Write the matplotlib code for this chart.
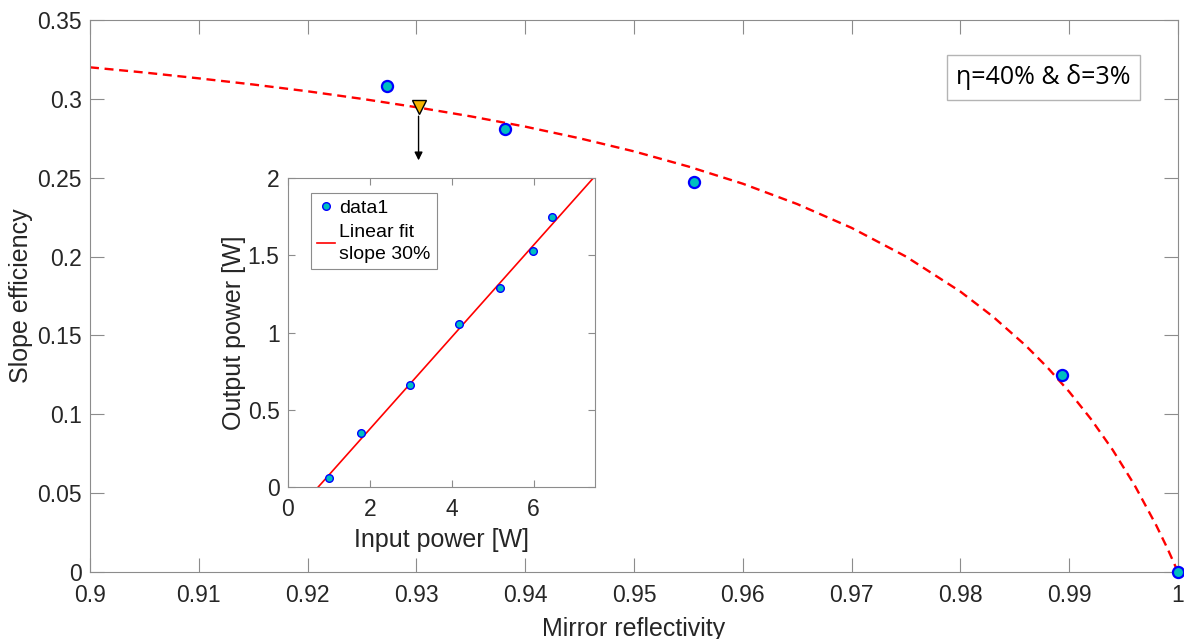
import numpy as np
import matplotlib
matplotlib.use("Agg")
import matplotlib.pyplot as plt
from matplotlib.ticker import FormatStrFormatter

plt.rcParams['font.family'] = ['Liberation Sans', 'DejaVu Sans']

# measured slope efficiency vs output mirror reflectivity
refl = [0.9273, 0.9381, 0.9555, 0.9893, 1.0]
slope_eff = [0.3082, 0.2809, 0.2475, 0.1249, 0.0]

# model curve (eta=40%, delta=3%)
curve_refl = [0.900, 0.905, 0.910, 0.915, 0.920, 0.925, 0.930, 0.935, 0.940,
              0.945, 0.950, 0.955, 0.960, 0.965, 0.970, 0.975, 0.980, 0.983,
              0.986, 0.988, 0.990, 0.992, 0.994, 0.996, 0.998, 0.999, 1.000]
curve_eff = [0.3200, 0.3167, 0.3130, 0.3091, 0.3048, 0.3000, 0.2947, 0.2889,
             0.2824, 0.2750, 0.2667, 0.2571, 0.2462, 0.2333, 0.2182, 0.2000,
             0.1778, 0.1619, 0.1436, 0.1297, 0.1143, 0.0970, 0.0774, 0.0552,
             0.0296, 0.0154, 0.0]

# highlighted point (inset is taken at this reflectivity)
mark_refl = [0.9302]
mark_eff = [0.295]

# inset: output vs input power
p_in = [1.00, 1.79, 2.98, 4.18, 5.18, 5.98, 6.46]
p_out = [0.06, 0.351, 0.66, 1.052, 1.285, 1.528, 1.748]
fit_x = [0.74, 7.46]
fit_y = [0.0, 2.0]

text_col = '#262626'
spine_col = '#8c8c8c'

fig = plt.figure(figsize=(11.84, 6.39), dpi=100)
ax = fig.add_axes([0.0760, 0.1049, 0.9189, 0.8638])

ax.plot(curve_refl, curve_eff, color='red', lw=1.7, dashes=(3.8, 2.4), zorder=2)
ax.plot(refl, slope_eff, 'o', ms=8, mfc='#00bfbf', mec='blue', mew=1.6,
        clip_on=False, zorder=4)
ax.plot(mark_refl, mark_eff, 'v', ms=9.5, mfc='#f5b400', mec='black', mew=1,
        zorder=5)
ax.annotate('', xy=(0.9302, 0.261), xytext=(0.9302, 0.289),
            arrowprops=dict(arrowstyle='-|>', color='black', lw=1,
                            mutation_scale=12, shrinkA=0, shrinkB=0))

ax.set_xlim(0.9, 1.0)
ax.set_ylim(0, 0.35)
ax.set_xticks(np.arange(0.9, 1.0001, 0.01))
ax.set_yticks(np.arange(0, 0.3501, 0.05))
ax.xaxis.set_major_formatter(FormatStrFormatter('%g'))
ax.yaxis.set_major_formatter(FormatStrFormatter('%g'))
ax.tick_params(direction='in', length=10, width=0.8, color=spine_col,
               labelsize=16.5, labelcolor=text_col, top=True, right=True)
ax.tick_params(axis='x', pad=9)
ax.tick_params(axis='y', pad=6)
for s in ax.spines.values():
    s.set_color(spine_col)
    s.set_linewidth(0.8)
ax.set_xlabel('Mirror reflectivity', fontsize=18, color=text_col, labelpad=7)
ax.set_ylabel('Slope efficiency', fontsize=18, color=text_col, labelpad=3)

ax.text(0.8764, 0.8967, 'η=40% & δ=3%', transform=ax.transAxes,
        fontsize=18, family=['Open Sans', 'DejaVu Sans'], color='black',
        ha='center', va='center',
        bbox=dict(boxstyle='square,pad=0.38', fc='white', ec='#b4b4b4', lw=1))

# inset
ins = fig.add_axes([0.2432, 0.2379, 0.2593, 0.4835])
ins.plot(p_in, p_out, 'o', ms=5.5, mfc='#00bfbf', mec='blue', mew=1,
         label='data1', zorder=4)
ins.plot(fit_x, fit_y, color='red', lw=1.2, label='Linear fit\nslope 30%')
ins.set_xlim(0, 7.5)
ins.set_ylim(0, 2)
ins.set_xticks([0, 2, 4, 6])
ins.set_yticks([0, 0.5, 1, 1.5, 2])
ins.xaxis.set_major_formatter(FormatStrFormatter('%g'))
ins.yaxis.set_major_formatter(FormatStrFormatter('%g'))
ins.tick_params(direction='in', length=5, width=0.8, color=spine_col,
                labelsize=16.5, labelcolor=text_col, top=True, right=True)
ins.tick_params(axis='x', pad=8)
ins.tick_params(axis='y', pad=6)
for s in ins.spines.values():
    s.set_color(spine_col)
    s.set_linewidth(0.8)
ins.set_xlabel('Input power [W]', fontsize=18, color=text_col, labelpad=5)
ins.set_ylabel('Output power [W]', fontsize=18, color=text_col, labelpad=1)
leg = ins.legend(loc='upper left', bbox_to_anchor=(0.074, 0.952), fontsize=14,
                 numpoints=1, handlelength=0.9, handletextpad=0.2,
                 borderpad=0.35, labelspacing=0.35, borderaxespad=0,
                 fancybox=False, framealpha=1, edgecolor='#8c8c8c')
leg.get_frame().set_linewidth(0.8)
for t in leg.get_texts():
    t.set_linespacing(1.35)

fig.savefig('out.png', dpi=100)
